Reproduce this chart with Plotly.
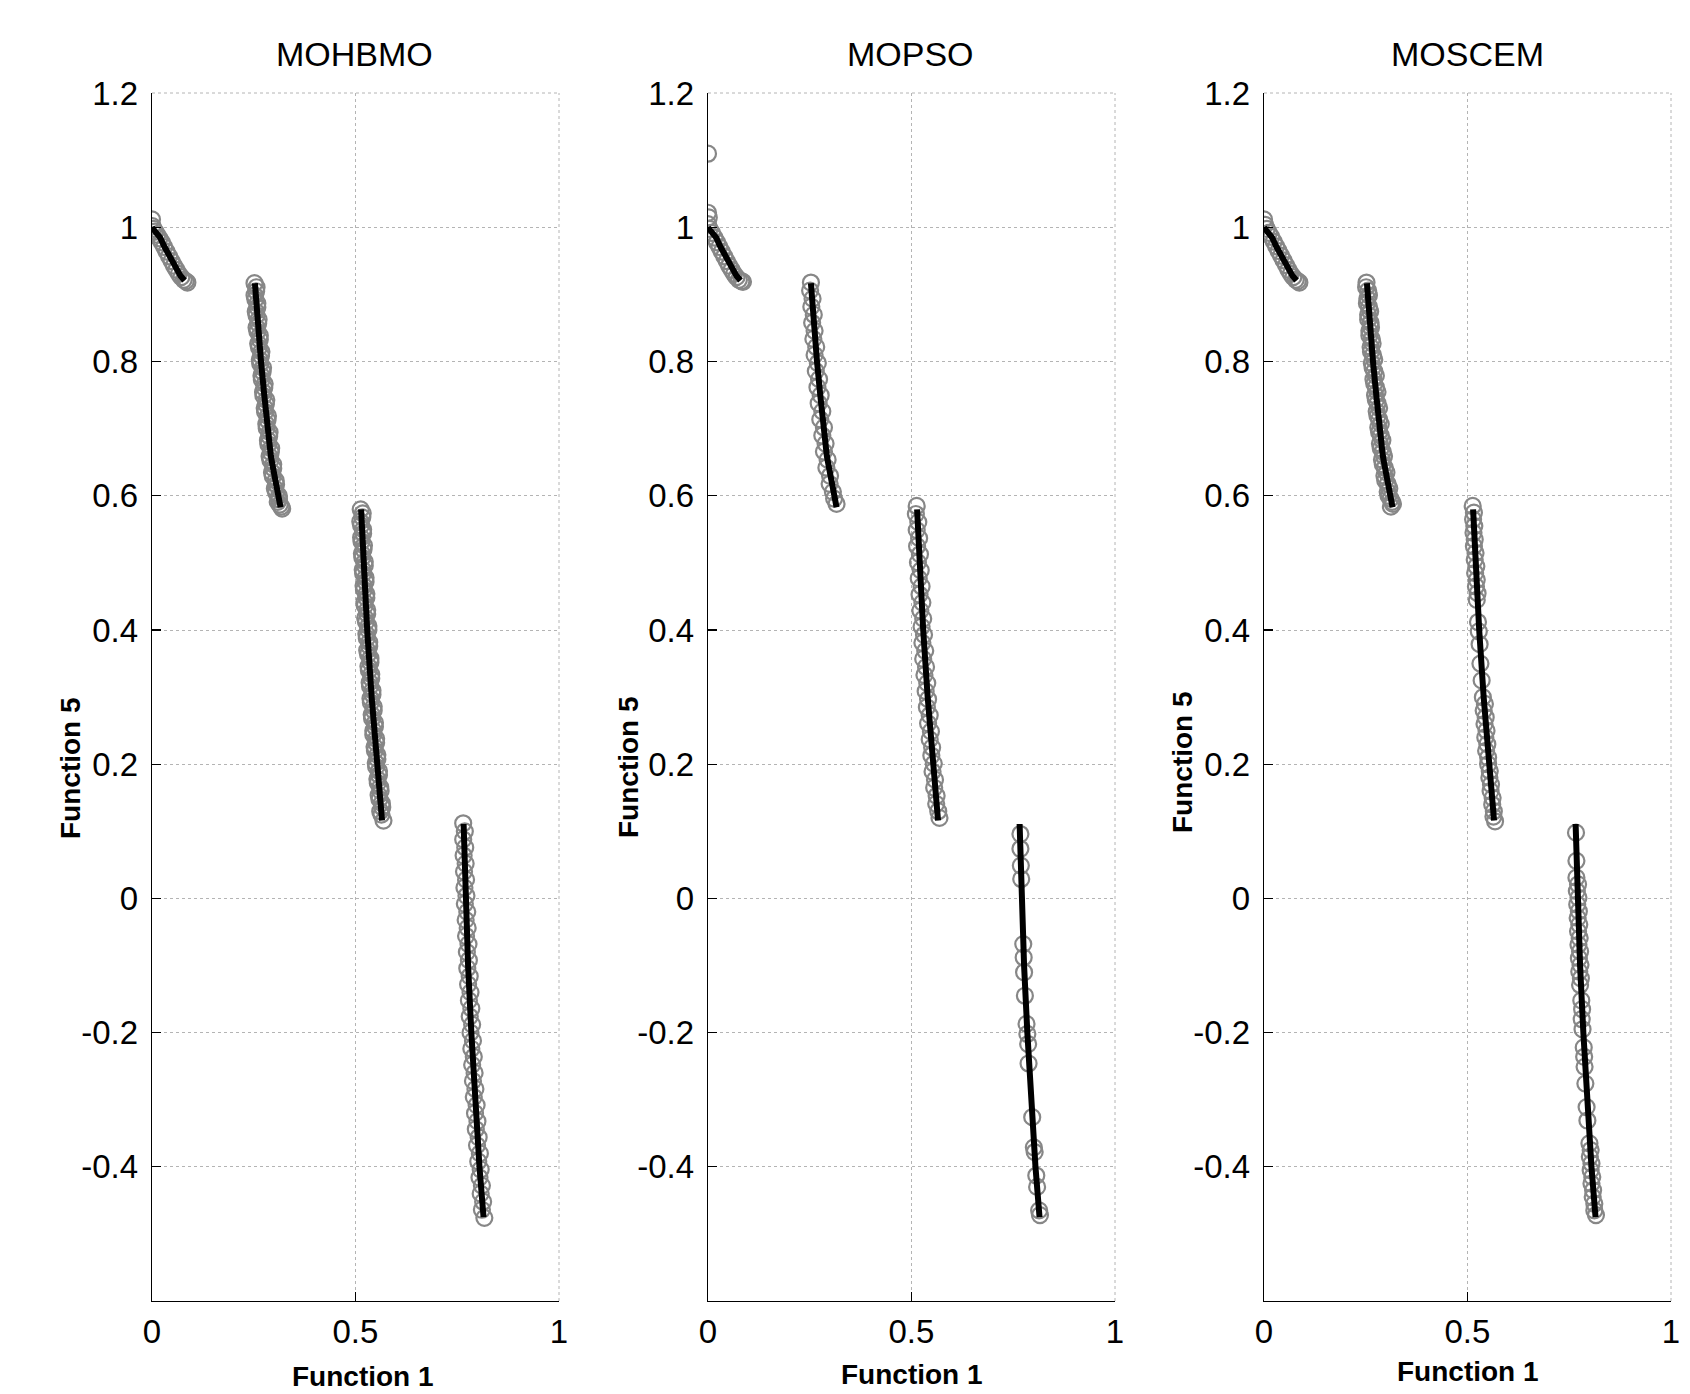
import plotly.graph_objects as go

# ---------------- data ----------------
TITLES = ["MOHBMO", "MOPSO", "MOSCEM"]
X_LABEL = "Function 1"
Y_LABEL = "Function 5"
X_TICKS = [0, 0.5, 1]
X_TICKTEXT = ["0", "0.5", "1"]
Y_TICKS = [-0.4, -0.2, 0, 0.2, 0.4, 0.6, 0.8, 1.0, 1.2]
Y_TICKTEXT = ["-0.4", "-0.2", "0", "0.2", "0.4", "0.6", "0.8", "1", "1.2"]

# true Pareto front (four disconnected pieces)
FRONT_F1 = [0.000, 0.010, 0.020, 0.030, 0.045, 0.058, 0.070, 0.080, None,
            0.253, 0.2585, 0.268, 0.276, 0.284, 0.292, 0.298, 0.306, 0.311, 0.316, None,
            0.514, 0.520, 0.529, 0.540, 0.553, 0.561, 0.5655, None,
            0.766, 0.7708, 0.777, 0.785, 0.794, 0.805, 0.815]
FRONT_F5 = [1.000, 0.993, 0.985, 0.972, 0.955, 0.940, 0.928, 0.921, None,
            0.917, 0.860, 0.800, 0.750, 0.700, 0.660, 0.640, 0.610, 0.595, 0.583, None,
            0.580, 0.500, 0.400, 0.300, 0.200, 0.150, 0.116, None,
            0.111, 0.000, -0.100, -0.200, -0.300, -0.400, -0.475]

# MOHBMO solutions
MOHBMO_F1 = [
    0.000, 0.001, 0.004, 0.008, 0.013, 0.018, 0.024, 0.030, 0.036, 0.042, 0.048, 0.054, 0.060, 0.066, 0.072, 0.078, 0.083, 0.087,
    0.252, 0.256, 0.254, 0.259, 0.257, 0.261, 0.259, 0.265, 0.263, 0.268, 0.266, 0.272, 0.270, 0.276, 0.274, 0.280, 0.278, 0.284,
    0.282, 0.288, 0.286, 0.292, 0.291, 0.298, 0.297, 0.305, 0.305, 0.312, 0.314, 0.320,
    0.257, 0.252, 0.259, 0.255, 0.262, 0.257, 0.265, 0.261, 0.269, 0.265, 0.273, 0.269, 0.277, 0.273, 0.281, 0.277, 0.285, 0.281,
    0.289, 0.285, 0.293, 0.289, 0.298, 0.295, 0.304, 0.302, 0.312, 0.309, 0.318,
    0.513, 0.517, 0.514, 0.519, 0.515, 0.520, 0.517, 0.523, 0.519, 0.525, 0.521, 0.527, 0.523, 0.529, 0.526, 0.532, 0.528, 0.534,
    0.531, 0.537, 0.533, 0.539, 0.536, 0.542, 0.538, 0.545, 0.541, 0.548, 0.544, 0.551, 0.548, 0.554, 0.551, 0.558, 0.555, 0.562,
    0.559, 0.566, 0.564, 0.569,
    0.518, 0.512, 0.519, 0.514, 0.521, 0.516, 0.523, 0.518, 0.525, 0.520, 0.527, 0.522, 0.529, 0.524, 0.532, 0.527, 0.534, 0.529,
    0.537, 0.532, 0.539, 0.535, 0.542, 0.537, 0.545, 0.540, 0.548, 0.544, 0.551, 0.547, 0.554, 0.550, 0.558, 0.554, 0.561, 0.557,
    0.565, 0.561,
    0.765, 0.769, 0.765, 0.770, 0.766, 0.771, 0.767, 0.772, 0.768, 0.773, 0.769, 0.775, 0.771, 0.776, 0.772, 0.778, 0.774, 0.779,
    0.775, 0.781, 0.777, 0.783, 0.779, 0.785, 0.781, 0.787, 0.783, 0.789, 0.785, 0.791, 0.787, 0.793, 0.789, 0.795, 0.791, 0.798,
    0.794, 0.800, 0.796, 0.803, 0.799, 0.806, 0.802, 0.808, 0.805, 0.811, 0.808, 0.814, 0.811, 0.817]
MOHBMO_F5 = [
    1.012, 1.002, 0.998, 0.994, 0.989, 0.984, 0.978, 0.971, 0.964, 0.957, 0.950, 0.943, 0.937, 0.931, 0.926, 0.922, 0.920, 0.918,
    0.917, 0.905, 0.893, 0.881, 0.869, 0.857, 0.845, 0.833, 0.821, 0.809, 0.797, 0.785, 0.773, 0.761, 0.749, 0.737, 0.725, 0.713,
    0.701, 0.689, 0.677, 0.665, 0.653, 0.641, 0.629, 0.617, 0.605, 0.595, 0.587, 0.581,
    0.911, 0.899, 0.887, 0.875, 0.863, 0.851, 0.839, 0.827, 0.815, 0.803, 0.791, 0.779, 0.767, 0.755, 0.743, 0.731, 0.719, 0.707,
    0.695, 0.683, 0.671, 0.659, 0.647, 0.635, 0.623, 0.611, 0.600, 0.591, 0.584,
    0.580, 0.568, 0.556, 0.544, 0.532, 0.520, 0.508, 0.496, 0.484, 0.472, 0.460, 0.448, 0.436, 0.424, 0.412, 0.400, 0.388, 0.376,
    0.364, 0.352, 0.340, 0.328, 0.316, 0.304, 0.292, 0.280, 0.268, 0.256, 0.244, 0.232, 0.220, 0.208, 0.196, 0.184, 0.172, 0.160,
    0.148, 0.136, 0.125, 0.116,
    0.574, 0.562, 0.550, 0.538, 0.526, 0.514, 0.502, 0.490, 0.478, 0.466, 0.454, 0.442, 0.430, 0.418, 0.406, 0.394, 0.382, 0.370,
    0.358, 0.346, 0.334, 0.322, 0.310, 0.298, 0.286, 0.274, 0.262, 0.250, 0.238, 0.226, 0.214, 0.202, 0.190, 0.178, 0.166, 0.154,
    0.142, 0.130,
    0.112, 0.100, 0.088, 0.076, 0.064, 0.052, 0.040, 0.028, 0.016, 0.004, -0.008, -0.020, -0.032, -0.044, -0.056, -0.068, -0.080, -0.092,
    -0.104, -0.116, -0.128, -0.140, -0.152, -0.164, -0.176, -0.188, -0.200, -0.212, -0.224, -0.236, -0.248, -0.260, -0.272, -0.284, -0.296, -0.308,
    -0.320, -0.332, -0.344, -0.356, -0.368, -0.380, -0.392, -0.404, -0.416, -0.428, -0.440, -0.452, -0.464, -0.476]

# MOPSO solutions
MOPSO_F1 = [
    0.000, 0.000, 0.002, 0.000,
    0.004, 0.010, 0.016, 0.022, 0.028, 0.034, 0.040, 0.046, 0.052, 0.058, 0.064, 0.070, 0.076, 0.082, 0.086,
    0.253, 0.251, 0.257, 0.254, 0.260, 0.256, 0.262, 0.259, 0.266, 0.262, 0.270, 0.265, 0.273, 0.269, 0.277, 0.272, 0.281, 0.276,
    0.285, 0.281, 0.289, 0.285, 0.294, 0.291, 0.300, 0.299, 0.307, 0.310, 0.316,
    0.513, 0.511, 0.517, 0.513, 0.519, 0.514, 0.521, 0.516, 0.523, 0.518, 0.525, 0.520, 0.527, 0.522, 0.529, 0.525, 0.531, 0.527,
    0.534, 0.529, 0.536, 0.532, 0.539, 0.535, 0.541, 0.538, 0.545, 0.541, 0.548, 0.545, 0.551, 0.549, 0.555, 0.552, 0.558, 0.556,
    0.562, 0.561, 0.566, 0.569,
    0.768, 0.768, 0.769, 0.770, 0.775, 0.776, 0.777, 0.779, 0.783, 0.785, 0.787, 0.788, 0.797, 0.801, 0.803, 0.807, 0.809, 0.814, 0.816]
MOPSO_F5 = [
    1.110, 1.022, 1.015, 1.005,
    0.998, 0.992, 0.985, 0.978, 0.971, 0.964, 0.957, 0.950, 0.943, 0.937, 0.931, 0.926, 0.922, 0.920, 0.919,
    0.918, 0.906, 0.894, 0.882, 0.870, 0.858, 0.846, 0.834, 0.822, 0.810, 0.798, 0.786, 0.774, 0.762, 0.750, 0.738, 0.726, 0.714,
    0.702, 0.690, 0.678, 0.666, 0.654, 0.642, 0.630, 0.618, 0.606, 0.596, 0.588,
    0.585, 0.573, 0.561, 0.549, 0.537, 0.525, 0.513, 0.501, 0.489, 0.477, 0.465, 0.453, 0.441, 0.429, 0.417, 0.405, 0.393, 0.381,
    0.369, 0.357, 0.345, 0.333, 0.321, 0.309, 0.297, 0.285, 0.273, 0.261, 0.249, 0.237, 0.225, 0.213, 0.201, 0.189, 0.177, 0.165,
    0.153, 0.141, 0.130, 0.120,
    0.096, 0.074, 0.049, 0.029, -0.068, -0.088, -0.110, -0.145, -0.187, -0.202, -0.217, -0.246, -0.326, -0.371, -0.378, -0.413, -0.430, -0.465, -0.472]

# MOSCEM solutions
MOSCEM_F1 = [
    0.000, 0.003, 0.007, 0.012, 0.018, 0.024, 0.030, 0.036, 0.042, 0.048, 0.054, 0.060, 0.066, 0.072, 0.078, 0.083, 0.087,
    0.252, 0.256, 0.254, 0.258, 0.256, 0.262, 0.259, 0.265, 0.262, 0.268, 0.265, 0.271, 0.269, 0.275, 0.273, 0.279, 0.277, 0.283,
    0.281, 0.287, 0.285, 0.292, 0.290, 0.297, 0.296, 0.304, 0.304, 0.311, 0.317,
    0.251, 0.258, 0.253, 0.261, 0.256, 0.263, 0.259, 0.267, 0.263, 0.271, 0.267, 0.275, 0.271, 0.279, 0.275, 0.283, 0.279, 0.287,
    0.283, 0.291, 0.287, 0.295, 0.292, 0.301, 0.298, 0.308, 0.306, 0.315, 0.312,
    0.513, 0.516, 0.514, 0.517, 0.515, 0.518, 0.516, 0.520, 0.518, 0.522, 0.519, 0.523, 0.521, 0.525, 0.523,
    0.526, 0.528, 0.530, 0.532, 0.535,
    0.538, 0.543, 0.540, 0.545, 0.542, 0.547, 0.544, 0.549, 0.546, 0.551, 0.551, 0.555, 0.554, 0.558, 0.557, 0.562, 0.561, 0.565,
    0.564, 0.568,
    0.767, 0.768,
    0.768, 0.772, 0.769, 0.773, 0.770, 0.774, 0.771, 0.775, 0.772, 0.776, 0.773, 0.777, 0.774, 0.778, 0.775, 0.779, 0.777,
    0.780, 0.782, 0.781, 0.783, 0.786, 0.787, 0.788, 0.790, 0.793, 0.795,
    0.800, 0.803, 0.801, 0.805, 0.803, 0.807, 0.805, 0.809, 0.808, 0.812, 0.812, 0.816]
MOSCEM_F5 = [
    1.012, 1.004, 0.998, 0.992, 0.986, 0.979, 0.972, 0.965, 0.958, 0.951, 0.944, 0.937, 0.931, 0.926, 0.922, 0.920, 0.918,
    0.918, 0.906, 0.894, 0.882, 0.870, 0.858, 0.846, 0.834, 0.822, 0.810, 0.798, 0.786, 0.774, 0.762, 0.750, 0.738, 0.726, 0.714,
    0.702, 0.690, 0.678, 0.666, 0.654, 0.642, 0.630, 0.618, 0.606, 0.596, 0.588,
    0.911, 0.899, 0.887, 0.875, 0.863, 0.851, 0.839, 0.827, 0.815, 0.803, 0.791, 0.779, 0.767, 0.755, 0.743, 0.731, 0.719, 0.707,
    0.695, 0.683, 0.671, 0.659, 0.647, 0.635, 0.623, 0.611, 0.600, 0.591, 0.584,
    0.585, 0.575, 0.565, 0.555, 0.545, 0.535, 0.525, 0.515, 0.505, 0.495, 0.485, 0.475, 0.465, 0.455, 0.445,
    0.412, 0.398, 0.379, 0.350, 0.325,
    0.300, 0.290, 0.280, 0.270, 0.260, 0.250, 0.240, 0.230, 0.220, 0.210, 0.200, 0.190, 0.180, 0.170, 0.160, 0.150, 0.140, 0.130,
    0.122, 0.115,
    0.098, 0.056,
    0.031, 0.021, 0.011, 0.001, -0.009, -0.019, -0.029, -0.039, -0.049, -0.059, -0.069, -0.079, -0.089, -0.099, -0.109, -0.119, -0.129,
    -0.152, -0.165, -0.180, -0.195, -0.222, -0.236, -0.251, -0.276, -0.311, -0.331,
    -0.365, -0.375, -0.385, -0.395, -0.405, -0.415, -0.425, -0.435, -0.445, -0.455, -0.465, -0.472]

SOLUTIONS = [(MOHBMO_F1, MOHBMO_F5), (MOPSO_F1, MOPSO_F5), (MOSCEM_F1, MOSCEM_F5)]

# ---------------- layout geometry (pixels) ----------------
W, H = 1690, 1394
PANEL_X = [(152, 559), (708, 1115), (1264, 1671)]
PLOT_TOP, PLOT_BOTTOM = 93, 1301
TITLE_POS = [(354, 54), (911, 54), (1467, 54)]
XLABEL_POS = [(363, 1376), (912, 1374), (1468, 1371)]
YLABEL_POS = [(70, 768), (628, 767), (1182, 762)]

FONT = "Liberation Sans, Arial, Helvetica, sans-serif"
CIRCLE_COLOR = "#878787"
GRID_COLOR = "#b4b4b4"

fig = go.Figure()
annotations = []
shapes = []
layout_axes = {}
for i in range(3):
    sfx = "" if i == 0 else str(i + 1)
    xa, ya = "x" + sfx, "y" + sfx
    f1, f5 = SOLUTIONS[i]
    fig.add_trace(go.Scatter(
        x=f1, y=f5, mode="markers", xaxis=xa, yaxis=ya, showlegend=False,
        marker=dict(symbol="circle-open", size=16, color=CIRCLE_COLOR,
                    line=dict(width=2.2, color=CIRCLE_COLOR))))
    fig.add_trace(go.Scatter(
        x=FRONT_F1, y=FRONT_F5, mode="lines", xaxis=xa, yaxis=ya, showlegend=False,
        line=dict(color="black", width=6), connectgaps=False))

    x0, x1 = PANEL_X[i]
    layout_axes["xaxis" + sfx] = dict(
        domain=[x0 / W, x1 / W], anchor=ya, range=[0, 1.0005], automargin=False,
        tickvals=X_TICKS, ticktext=X_TICKTEXT, ticks="inside", ticklen=9,
        tickcolor="black", tickwidth=1.2, showline=True, linecolor="black", linewidth=1.3,
        showgrid=True, gridcolor=GRID_COLOR, griddash="dot", gridwidth=1,
        zeroline=False, ticklabelstandoff=1,
        tickfont=dict(family=FONT, size=33, color="black"), mirror=False)
    layout_axes["yaxis" + sfx] = dict(
        domain=[1 - PLOT_BOTTOM / H, 1 - PLOT_TOP / H], anchor=xa, range=[-0.6, 1.2005], automargin=False,
        tickvals=Y_TICKS, ticktext=Y_TICKTEXT, ticks="inside", ticklen=9,
        tickcolor="black", tickwidth=1.2, showline=True, linecolor="black", linewidth=1.3,
        showgrid=True, gridcolor=GRID_COLOR, griddash="dot", gridwidth=1,
        zeroline=False, ticklabelstandoff=6,
        tickfont=dict(family=FONT, size=33, color="black"), mirror=False)

    # dotted box edges on top and right (as in the reference)
    shapes.append(dict(type="line", xref="paper", yref="paper",
                       x0=x1 / W, x1=x1 / W, y0=1 - PLOT_BOTTOM / H, y1=1 - PLOT_TOP / H,
                       line=dict(color=GRID_COLOR, width=1, dash="dot"), layer="below"))
    shapes.append(dict(type="line", xref="paper", yref="paper",
                       x0=x0 / W, x1=x1 / W, y0=1 - PLOT_TOP / H, y1=1 - PLOT_TOP / H,
                       line=dict(color=GRID_COLOR, width=1, dash="dot"), layer="below"))

    tx, ty = TITLE_POS[i]
    annotations.append(dict(text=TITLES[i], x=tx / W, y=1 - ty / H, xref="paper", yref="paper",
                            showarrow=False, xanchor="center", yanchor="middle",
                            font=dict(family=FONT, size=34, color="black")))
    lx, ly = XLABEL_POS[i]
    annotations.append(dict(text="<b>" + X_LABEL + "</b>", x=lx / W, y=1 - ly / H, xref="paper", yref="paper",
                            showarrow=False, xanchor="center", yanchor="middle",
                            font=dict(family=FONT, size=28, color="black")))
    vx, vy = YLABEL_POS[i]
    annotations.append(dict(text="<b>" + Y_LABEL + "</b>", x=vx / W, y=1 - vy / H, xref="paper", yref="paper",
                            showarrow=False, xanchor="center", yanchor="middle", textangle=-90,
                            font=dict(family=FONT, size=28, color="black")))

fig.update_layout(
    width=W, height=H, margin=dict(l=0, r=0, t=0, b=0, autoexpand=False),
    paper_bgcolor="white", plot_bgcolor="white", annotations=annotations, shapes=shapes,
    hovermode=False, **layout_axes)

fig.write_html("out.html", config={"displayModeBar": False, "staticPlot": True},
               post_script="document.body.style.margin='0px';document.body.style.padding='0px';")
